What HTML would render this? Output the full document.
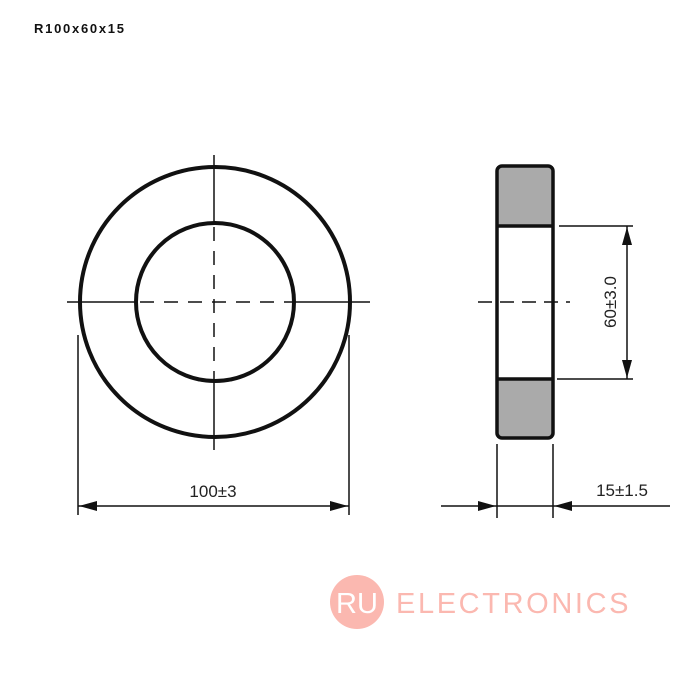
<!DOCTYPE html>
<html><head><style>body{margin:0;background:#fff}svg{display:block}</style></head><body>
<svg width="700" height="700" viewBox="0 0 700 700" xmlns="http://www.w3.org/2000/svg" font-family="Liberation Sans, sans-serif">
<rect width="700" height="700" fill="#fff"/>
<text x="34" y="33" font-size="13" font-weight="bold" fill="#111" textLength="90">R100x60x15</text>
<g fill="none" stroke="#111">
<circle cx="215" cy="302" r="135" stroke-width="4"/>
<circle cx="215" cy="302" r="79" stroke-width="4"/>
<line x1="67" y1="302" x2="136" y2="302" stroke-width="1.5"/>
<line x1="294" y1="302" x2="370" y2="302" stroke-width="1.5"/>
<line x1="136" y1="302" x2="294" y2="302" stroke-width="1.5" stroke-dasharray="14,10" stroke-dashoffset="-4"/>
<line x1="214" y1="155" x2="214" y2="223" stroke-width="1.5"/>
<line x1="214" y1="381" x2="214" y2="450" stroke-width="1.5"/>
<line x1="214" y1="223" x2="214" y2="381" stroke-width="1.5" stroke-dasharray="14,10" stroke-dashoffset="-4"/>
<line x1="78" y1="335" x2="78" y2="515" stroke-width="1.5"/>
<line x1="349" y1="335" x2="349" y2="515" stroke-width="1.5"/>
<line x1="78" y1="506" x2="349" y2="506" stroke-width="1.5"/>
</g>
<polygon points="79,506 97,501 97,511" fill="#111"/>
<polygon points="348,506 330,501 330,511" fill="#111"/>
<text x="213" y="497" font-size="17" text-anchor="middle" fill="#222">100±3</text>
<rect x="497" y="166" width="56" height="60" fill="#aaa"/>
<rect x="497" y="379" width="56" height="59" fill="#aaa"/>
<rect x="497" y="166" width="56" height="272" rx="5" fill="none" stroke="#111" stroke-width="3.5"/>
<g stroke="#111" fill="none">
<line x1="497" y1="226" x2="553" y2="226" stroke-width="3.5"/>
<line x1="497" y1="379" x2="553" y2="379" stroke-width="3.5"/>
<line x1="478" y1="302" x2="570" y2="302" stroke-width="1.5" stroke-dasharray="14,8"/>
<line x1="559" y1="226" x2="633" y2="226" stroke-width="1.5"/>
<line x1="557" y1="379" x2="633" y2="379" stroke-width="1.5"/>
<line x1="627" y1="226" x2="627" y2="379" stroke-width="1.5"/>
<line x1="497" y1="444" x2="497" y2="518" stroke-width="1.5"/>
<line x1="553" y1="444" x2="553" y2="518" stroke-width="1.5"/>
<line x1="441" y1="506" x2="670" y2="506" stroke-width="1.5"/>
</g>
<polygon points="627,227 622,245 632,245" fill="#111"/>
<polygon points="627,378 622,360 632,360" fill="#111"/>
<polygon points="496,506 478,501 478,511" fill="#111"/>
<polygon points="554,506 572,501 572,511" fill="#111"/>
<text transform="translate(616,302) rotate(-90)" font-size="17" text-anchor="middle" fill="#222">60±3.0</text>
<text x="622" y="496" font-size="17" text-anchor="middle" fill="#222">15±1.5</text>
<circle cx="357" cy="602" r="27" fill="#fbb8b0"/>
<text x="357" y="613" font-size="29" text-anchor="middle" fill="#fff">RU</text>
<text x="396" y="613" font-size="29" fill="#fbb8b0" letter-spacing="1.5" textLength="234">ELECTRONICS</text>
</svg>
</body></html>
